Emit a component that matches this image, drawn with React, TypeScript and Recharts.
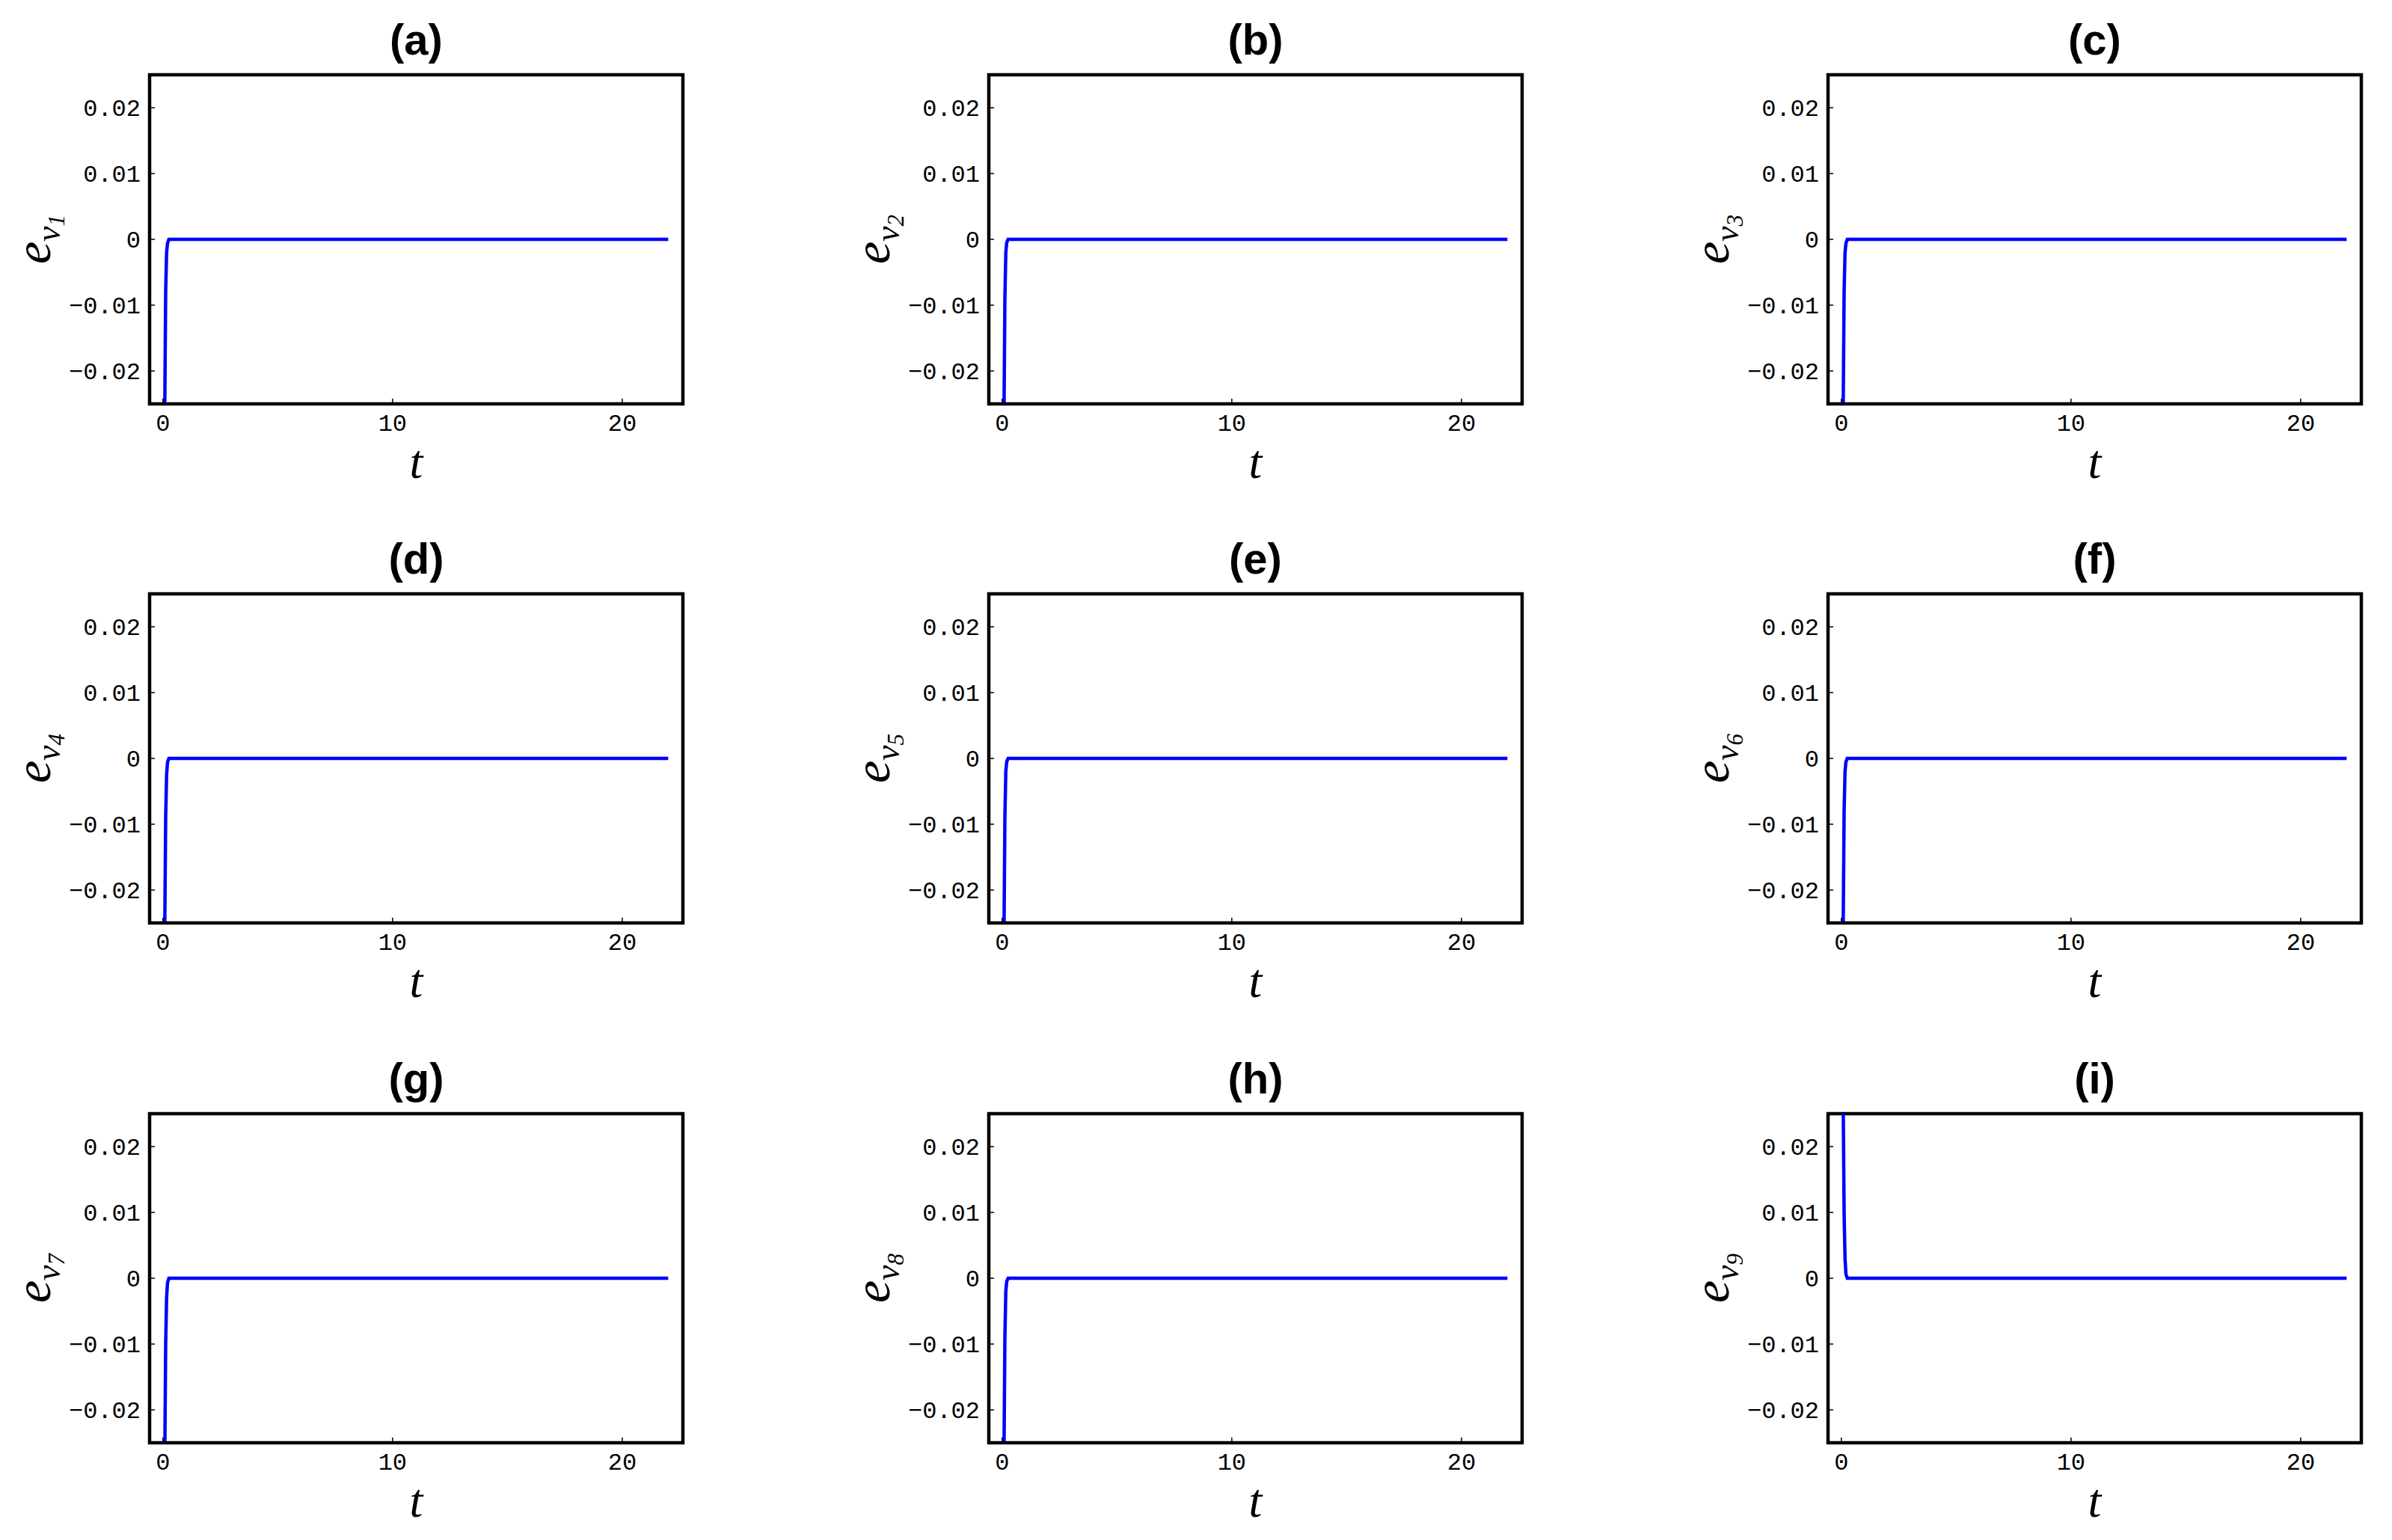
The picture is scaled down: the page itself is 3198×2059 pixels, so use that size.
import React from 'react';
import { LineChart, Line, XAxis, YAxis, ReferenceArea } from 'recharts';

// Time samples (shared by all nine panels)
const tPoints = [0, 0.08, 0.12, 0.16, 0.2, 0.26, 2, 6, 10, 14, 18, 22];

// Error signals e_{v_i}(t)
const ev1 = [-0.6, -0.026, -0.008, -0.002, -0.0006, 0, 0, 0, 0, 0, 0, 0];
const ev2 = [-0.6, -0.027, -0.009, -0.002, -0.0005, 0, 0, 0, 0, 0, 0, 0];
const ev3 = [-0.6, -0.026, -0.008, -0.002, -0.0006, 0, 0, 0, 0, 0, 0, 0];
const ev4 = [-0.6, -0.026, -0.009, -0.0025, -0.0006, 0, 0, 0, 0, 0, 0, 0];
const ev5 = [-0.6, -0.027, -0.009, -0.002, -0.0005, 0, 0, 0, 0, 0, 0, 0];
const ev6 = [-0.6, -0.026, -0.008, -0.002, -0.0005, 0, 0, 0, 0, 0, 0, 0];
const ev7 = [-0.6, -0.028, -0.01, -0.003, -0.0007, 0, 0, 0, 0, 0, 0, 0];
const ev8 = [-0.6, -0.027, -0.009, -0.002, -0.0005, 0, 0, 0, 0, 0, 0, 0];
const ev9 = [0.6, 0.027, 0.01, 0.003, 0.0006, 0, 0, 0, 0, 0, 0, 0];

const seriesList = [ev1, ev2, ev3, ev4, ev5, ev6, ev7, ev8, ev9];
const panelTitles = ['(a)', '(b)', '(c)', '(d)', '(e)', '(f)', '(g)', '(h)', '(i)'];
const subscripts = ['1', '2', '3', '4', '5', '6', '7', '8', '9'];
const xTicks = [0, 10, 20];
const yTicks = [-0.02, -0.01, 0, 0.01, 0.02];
const X_DOMAIN: [number, number] = [-0.58, 22.64];
const Y_DOMAIN: [number, number] = [-0.025, 0.025];

// layout
const COL_LEFT = [200, 1322, 2444];
const ROW_TOP = [100, 794, 1489];
const PLOT_W = 713;
const PLOT_H = 440;
const AXIS_W = 200;
const TOP_SPACE = 100;
const BOTTOM_SPACE = 120;
const RIGHT_SPACE = 27;

const frameLine = { stroke: '#000', strokeWidth: 4, strokeLinecap: 'square' as const };
const tickFont = { fontFamily: 'Liberation Mono', fontSize: 32, fill: '#000' };

const fmtY = (v: number) => {
  if (Math.abs(v) < 1e-9) return '0';
  return (v < 0 ? '\u2212' : '') + Math.abs(v).toFixed(2);
};

const TitleLabel = (props: any) => {
  const { viewBox, text } = props;
  const { x, y, width } = viewBox;
  return (
    <text
      x={x + width / 2}
      y={y - 27}
      textAnchor="middle"
      fontFamily="Liberation Sans"
      fontWeight="bold"
      fontSize={58}
      fill="#000"
    >
      {text}
    </text>
  );
};

const YLabel = (props: any) => {
  const { viewBox, sub } = props;
  const { x, y, height } = viewBox;
  const cx = x + 67;
  const cy = y + height / 2;
  return (
    <text
      transform={`rotate(-90 ${cx} ${cy})`}
      x={cx}
      y={cy}
      textAnchor="middle"
      fontFamily="Liberation Serif"
      fontStyle="italic"
      fill="#000"
    >
      <tspan fontSize={68}>e</tspan>
      <tspan fontSize={46} dy={13}>v</tspan>
      <tspan fontSize={31} dy={6}>{sub}</tspan>
    </text>
  );
};

const XLabel = (props: any) => {
  const { viewBox } = props;
  const { x, y, width } = viewBox;
  return (
    <text
      x={x + width / 2}
      y={y + 99}
      textAnchor="middle"
      fontFamily="Liberation Serif"
      fontStyle="italic"
      fontSize={64}
      fill="#000"
    >
      t
    </text>
  );
};

function Panel({ idx }: { idx: number }) {
  const values = seriesList[idx];
  const data = tPoints.map((t, i) => ({ t, e: values[i] }));
  const col = idx % 3;
  const row = Math.floor(idx / 3);
  return (
    <div
      style={{
        position: 'absolute',
        left: COL_LEFT[col] - AXIS_W,
        top: ROW_TOP[row] - TOP_SPACE,
      }}
    >
      <LineChart
        width={AXIS_W + PLOT_W + RIGHT_SPACE}
        height={TOP_SPACE + PLOT_H + BOTTOM_SPACE}
        data={data}
        margin={{ top: TOP_SPACE, right: RIGHT_SPACE, bottom: 0, left: 0 }}
      >
        <XAxis
          dataKey="t"
          type="number"
          domain={X_DOMAIN}
          allowDataOverflow
          ticks={xTicks}
          interval={0}
          height={BOTTOM_SPACE}
          axisLine={frameLine}
          tickLine={{ stroke: '#000', strokeWidth: 1.5 }}
          tickSize={-7}
          tickMargin={20}
          tick={tickFont}
          label={<XLabel />}
        />
        <YAxis
          type="number"
          domain={Y_DOMAIN}
          allowDataOverflow
          ticks={yTicks}
          interval={0}
          width={AXIS_W}
          axisLine={frameLine}
          tickLine={{ stroke: '#000', strokeWidth: 1.5 }}
          tickSize={-7}
          tickMargin={19}
          tick={tickFont}
          tickFormatter={fmtY}
          label={<YLabel sub={subscripts[idx]} />}
        />
        <ReferenceArea
          x1={X_DOMAIN[0]}
          x2={X_DOMAIN[1]}
          y1={Y_DOMAIN[0]}
          y2={Y_DOMAIN[1]}
          fill="none"
          fillOpacity={0}
          stroke="#000"
          strokeWidth={4.5}
          ifOverflow="visible"
          label={<TitleLabel text={panelTitles[idx]} />}
        />
        <Line
          type="linear"
          dataKey="e"
          stroke="#0000ff"
          strokeWidth={4.5}
          dot={false}
          isAnimationActive={false}
        />
      </LineChart>
    </div>
  );
}

export default function App() {
  return (
    <div
      style={{
        position: 'absolute',
        left: 0,
        top: 0,
        width: 3198,
        height: 2059,
        background: '#fff',
        overflow: 'hidden',
      }}
    >
      {seriesList.map((_, i) => (
        <Panel key={i} idx={i} />
      ))}
    </div>
  );
}
